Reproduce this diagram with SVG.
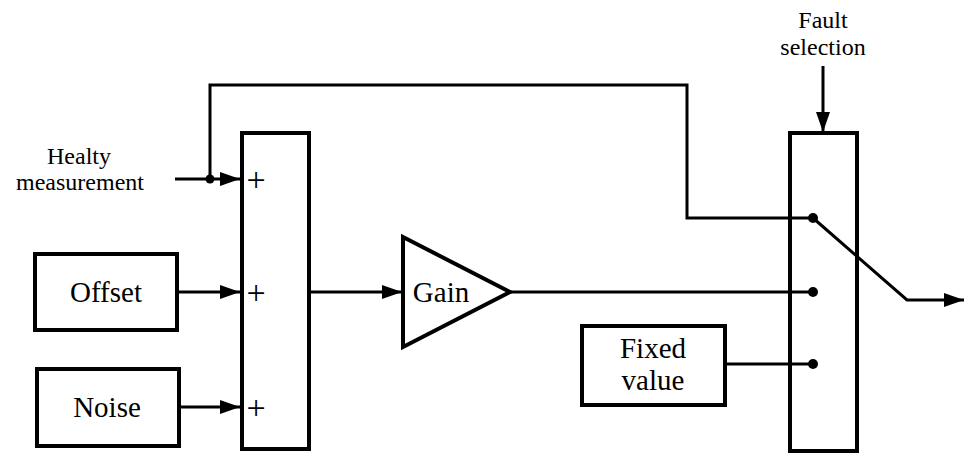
<svg xmlns="http://www.w3.org/2000/svg" width="964" height="453" viewBox="0 0 964 453">
<style>
.box{fill:none;stroke:#000;stroke-width:4}
.ln{fill:none;stroke:#000;stroke-width:3}
text{font-family:'Liberation Serif','DejaVu Serif',serif;fill:#000;text-anchor:middle}
.big{font-size:29px}
.sm{font-size:24px}
.pl{font-size:34px}
.dot{fill:#000}
</style>
<defs>
<marker id="ah2" markerWidth="20" markerHeight="14" refX="20" refY="7" orient="auto" markerUnits="userSpaceOnUse" viewBox="0 0 20 14">
<path d="M0,0 L20,7 L0,14 Z" fill="#000"/>
</marker>
</defs>
<g id="healthy">
<text class="sm" x="79" y="164">Healty</text>
<text class="sm" x="80" y="190">measurement</text>
</g>
<g id="offset">
<rect class="box" x="35" y="254" width="142" height="76"/>
<text class="big" x="106" y="302">Offset</text>
</g>
<g id="noise">
<rect class="box" x="37" y="369" width="142" height="77"/>
<text class="big" x="107" y="417">Noise</text>
</g>
<g id="sum">
<rect class="box" x="242" y="133" width="67" height="316"/>
<text class="pl" x="256" y="191">+</text>
<text class="pl" x="256" y="304">+</text>
<text class="pl" x="256" y="419">+</text>
</g>
<g id="gain">
<path class="box" d="M403,237 L510,292 L403,347 Z"/>
<text class="big" x="441" y="302">Gain</text>
</g>
<g id="fixed">
<rect class="box" x="582" y="326" width="143" height="79"/>
<text class="big" x="653" y="358">Fixed</text>
<text class="big" x="653" y="390">value</text>
</g>
<g id="selector">
<rect class="box" x="790" y="133" width="67" height="318"/>
</g>
<g id="fault">
<text class="sm" x="823" y="28">Fault</text>
<text class="sm" x="823" y="55">selection</text>
</g>
<g id="connectors">
<line class="ln" x1="175" y1="179" x2="240" y2="179" marker-end="url(#ah2)"/>
<circle class="dot" cx="210" cy="179" r="4.5"/>
<path class="ln" d="M210,179 L210,85 L687,85 L687,218 L813,218"/>
<line class="ln" x1="177" y1="292" x2="240" y2="292" marker-end="url(#ah2)"/>
<line class="ln" x1="179" y1="407" x2="240" y2="407" marker-end="url(#ah2)"/>
<line class="ln" x1="309" y1="292" x2="402" y2="292" marker-end="url(#ah2)"/>
<line class="ln" x1="510" y1="292" x2="813" y2="292"/>
<line class="ln" x1="725" y1="364" x2="813" y2="364"/>
<line class="ln" x1="823" y1="66" x2="823" y2="132" marker-end="url(#ah2)"/>
<circle class="dot" cx="813" cy="218" r="5"/>
<circle class="dot" cx="813" cy="292" r="5"/>
<circle class="dot" cx="813" cy="364" r="5"/>
<path class="ln" d="M813,218 L907,300 L964,300" marker-end="url(#ah2)"/>
</g>
</svg>
